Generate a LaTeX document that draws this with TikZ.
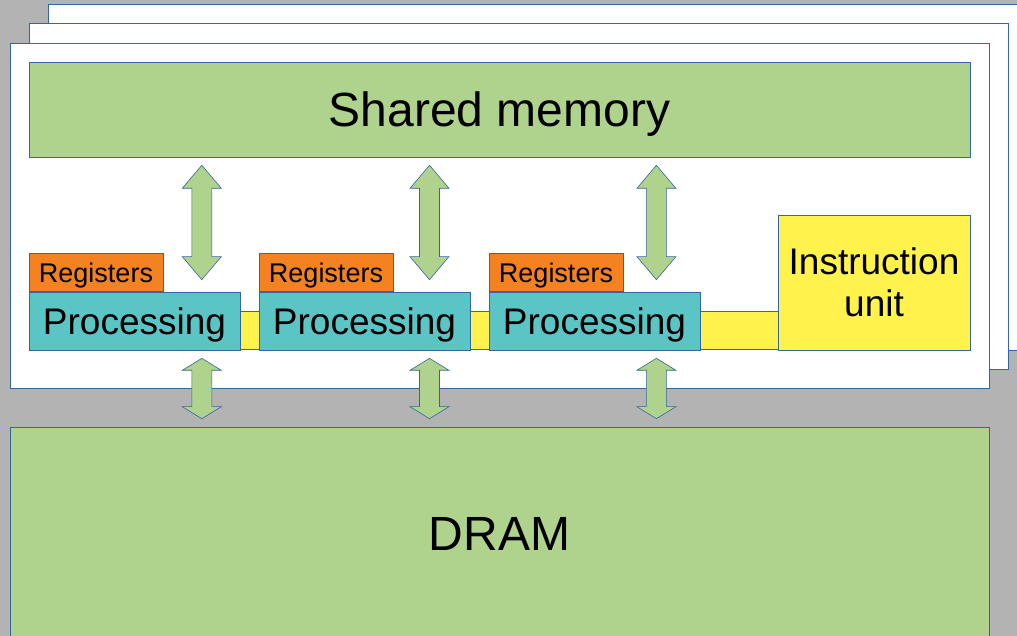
\documentclass[tikz,border=0pt]{standalone}
\usepackage{fontspec}
\setmainfont{Liberation Sans}
\usetikzlibrary{calc, positioning}
\definecolor{bggray}{RGB}{179,179,179}
\definecolor{edgeblue}{RGB}{52,101,164}
\definecolor{memgreen}{RGB}{175,210,140}
\definecolor{procteal}{RGB}{91,196,196}
\definecolor{regorange}{RGB}{245,130,32}
\definecolor{unityellow}{RGB}{255,242,77}

% block arrow with two heads: top tip, bottom tip, head length
\newcommand{\blockarrow}[3]{%
  \draw[barrow] let \p1=(#1), \p2=(#2) in
    (\x1,\y1) -- (\x1+19.5pt,\y1-#3) -- (\x1+10pt,\y1-#3) -- (\x1+10pt,\y2+#3)
    -- (\x1+19.5pt,\y2+#3) -- (\x1,\y2) -- (\x1-19.5pt,\y2+#3) -- (\x1-10pt,\y2+#3)
    -- (\x1-10pt,\y1-#3) -- (\x1-19.5pt,\y1-#3) -- cycle;}

\begin{document}
\begin{tikzpicture}[
  x=1pt,y=1pt,
  panel/.style={rectangle, draw=edgeblue, line width=0.8pt, fill=white, inner sep=0pt},
  box/.style={rectangle, draw=edgeblue, line width=0.6pt, inner sep=0pt, align=center},
  membox/.style={box, fill=memgreen, text depth=0pt, font=\fontsize{48}{56}\selectfont},
  procbox/.style={box, fill=procteal, text depth=0pt, minimum width=211, minimum height=58, font=\fontsize{37}{42}\selectfont},
  regbox/.style={box, fill=regorange, text depth=0pt, minimum width=134, minimum height=38, font=\fontsize{27}{30}\selectfont},
  unitbox/.style={box, fill=unityellow, font=\fontsize{37}{42}\selectfont},
  barrow/.style={draw=edgeblue, line width=0.6pt, fill=memgreen, line join=miter}
]
\useasboundingbox (0,0) rectangle (1017,636);
\fill[bggray] (0,0) rectangle (1017,636);

% ---- stacked panels ----
\node[panel, minimum width=1000, minimum height=346, anchor=north west] (panelback) at (48,632) {};
\node[panel, minimum width=979, minimum height=346, anchor=north west] (panelmid) at (29,613) {};
\node[panel, minimum width=979, minimum height=345, anchor=north west] (panelfront) at (10,593) {};

% ---- memories ----
\node[membox, minimum width=941, minimum height=95] (mem) at (499.5,526.5) {Shared memory};
\node[membox, minimum width=979, minimum height=213] (dram) at (499.5,102.5) {DRAM};

% ---- instruction bus and unit ----
\node[unitbox, minimum width=538, minimum height=38, anchor=south west] (bus) at (240,286) {};
\node[unitbox, minimum width=192, minimum height=135] (instr) at (874,353.5) {Instruction\\unit};

% ---- processing columns ----
\foreach \k/\cx/\p in {1/0/0.5,2/230/0.47,3/460/0.43}{
  \node[procbox] (proc\k) at (134.5+\cx,315) {Processing};
  \node[regbox, anchor=south west] (reg\k) at (proc\k.north west) {Registers};
  \path (reg\k.north east) -- (proc\k.north east) coordinate[pos=\p] (col\k);
}

% ---- data paths ----
\foreach \k in {1,2,3}{
  \path (col\k |- mem.south) ++(0,-8) coordinate (upt\k);
  \path (col\k |- proc\k.north) ++(0,12) coordinate (upb\k);
  \path (col\k |- proc\k.south) ++(0,-8) coordinate (dnt\k);
  \path (col\k |- dram.north) ++(0,8) coordinate (dnb\k);
  \blockarrow{upt\k}{upb\k}{23pt}
  \blockarrow{dnt\k}{dnb\k}{12pt}
}

\end{tikzpicture}
\end{document}
